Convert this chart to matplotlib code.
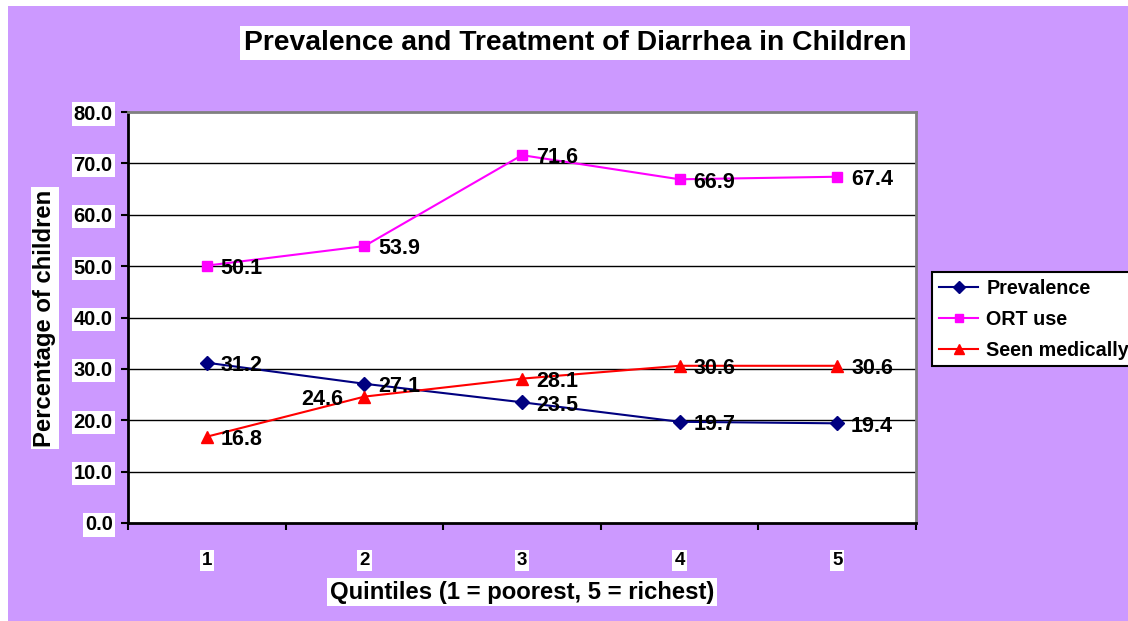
import matplotlib
matplotlib.use("Agg")
import matplotlib.pyplot as plt
from matplotlib.patches import Rectangle

quintiles = [1, 2, 3, 4, 5]
prevalence = [31.2, 27.1, 23.5, 19.7, 19.4]
ort_use = [50.1, 53.9, 71.6, 66.9, 67.4]
seen_medically = [16.8, 24.6, 28.1, 30.6, 30.6]
y_ticks = [0, 10, 20, 30, 40, 50, 60, 70, 80]

plt.rcParams['font.family'] = ['Liberation Sans', 'DejaVu Sans']
plt.rcParams['font.weight'] = 'bold'

W, H = 1128, 621
fig = plt.figure(figsize=(W / 100, H / 100), dpi=100, facecolor='white')
fig.patches.append(Rectangle((8 / W, 0), 1, (H - 6) / H, transform=fig.transFigure,
                             facecolor='#CC99FF', edgecolor='none', zorder=-10))

ax = fig.add_axes([128 / W, 1 - 523 / H, (916 - 128) / W, (523 - 112) / H])
ax.set_facecolor('white')
ax.set_xlim(0.5, 5.5)
ax.set_ylim(0, 80)

for y in y_ticks[1:-1]:
    ax.axhline(y, color='black', lw=1.0, zorder=1)

ax.plot(quintiles, prevalence, color='#000080', marker='D', markersize=7, lw=1.5,
        label='Prevalence', zorder=3)
ax.plot(quintiles, ort_use, color='#FF00FF', marker='s', markersize=6.5, lw=1.5,
        markerfacecolor='#FF00FF', label='ORT use', zorder=3)
ax.plot(quintiles, seen_medically, color='#FF0000', marker='^', markersize=9, lw=1.5,
        label='Seen medically', zorder=3)

lab_fs = 15.5

def put(x, v, left=False):
    if left:
        ax.annotate(f"{v:.1f}", (x, v), xytext=(-15, -2), textcoords='offset points',
                    ha='right', va='center', fontsize=lab_fs, fontweight='bold', zorder=4)
    else:
        ax.annotate(f"{v:.1f}", (x, v), xytext=(10, -2), textcoords='offset points',
                    ha='left', va='center', fontsize=lab_fs, fontweight='bold', zorder=4)

for x, v in zip(quintiles, prevalence):
    put(x, v)
for x, v in zip(quintiles, ort_use):
    put(x, v)
for x, v in zip(quintiles, seen_medically):
    put(x, v, left=(x == 2))

for s in ['left', 'bottom']:
    ax.spines[s].set_color('black')
    ax.spines[s].set_linewidth(2)
for s in ['top', 'right']:
    ax.spines[s].set_color('#808080')
    ax.spines[s].set_linewidth(2)

ax.set_yticks(y_ticks)
ax.set_yticklabels([f"{v:.1f}" for v in y_ticks])
ax.tick_params(axis='y', direction='out', length=5, width=1.5, pad=6, labelsize=14.5)

ax.set_xticks(quintiles)
ax.set_xticklabels([str(q) for q in quintiles])
ax.set_xticks([0.5, 1.5, 2.5, 3.5, 4.5, 5.5], minor=True)
ax.tick_params(axis='x', which='major', length=0, pad=21, labelsize=13.5)
ax.tick_params(axis='x', which='minor', direction='out', length=5, width=1.5)

for lbl in ax.get_yticklabels() + ax.get_xticklabels():
    lbl.set_fontweight('bold')
    lbl.set_bbox(dict(facecolor='white', edgecolor='none', pad=1.5))

fig.text(45 / W, 1 - 318 / H, 'Percentage of children', rotation=90, ha='center', va='center',
         fontsize=17.2, fontweight='bold',
         bbox=dict(facecolor='white', edgecolor='none', pad=2))
fig.text(522 / W, 1 - 592 / H, 'Quintiles (1 = poorest, 5 = richest)', ha='center', va='center',
         fontsize=17.2, fontweight='bold',
         bbox=dict(facecolor='white', edgecolor='none', pad=2))
fig.text(575 / W, 1 - 43 / H, 'Prevalence and Treatment of Diarrhea in Children', ha='center',
         va='center', fontsize=20.3, fontweight='bold',
         bbox=dict(facecolor='white', edgecolor='none', pad=3))

leg = fig.legend(handles=ax.get_lines()[-3:], loc='upper left',
                 bbox_to_anchor=(932 / W, 1 - 272 / H), frameon=True, fancybox=False,
                 prop={'weight': 'bold', 'size': 14.2}, handlelength=2.0, handletextpad=0.4,
                 borderpad=0.35, labelspacing=0.6, borderaxespad=0, markerscale=0.85)
leg.get_frame().set_edgecolor('black')
leg.get_frame().set_linewidth(1.5)
leg.get_frame().set_facecolor('white')
leg.get_frame().set_alpha(1)

fig.savefig('out.png', dpi=100, facecolor=fig.get_facecolor())
